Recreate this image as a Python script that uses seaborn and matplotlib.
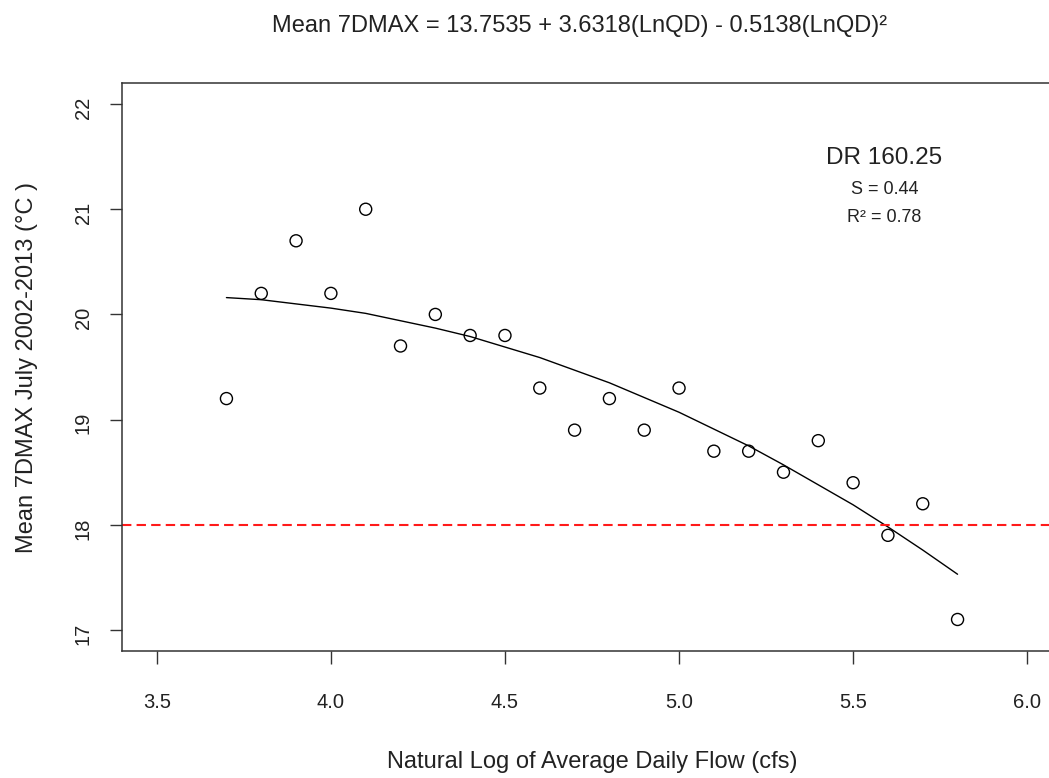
import numpy as np
import pandas as pd
import seaborn as sns
import matplotlib
matplotlib.use('Agg')
import matplotlib.pyplot as plt

# observed points (ln of average daily flow vs mean 7DMAX)
ln_flow = [3.7, 3.8, 3.9, 4.0, 4.1, 4.2, 4.3, 4.4, 4.5, 4.6, 4.7,
           4.8, 4.9, 5.0, 5.1, 5.2, 5.3, 5.4, 5.5, 5.6, 5.7, 5.8]
mean_7dmax = [19.2, 20.2, 20.7, 20.2, 21.0, 19.7, 20.0, 19.8, 19.8, 19.3, 18.9,
              19.2, 18.9, 19.3, 18.7, 18.7, 18.5, 18.8, 18.4, 17.9, 18.2, 17.1]

# fitted curve at the same x positions
fit_7dmax = [20.16, 20.14, 20.10, 20.06, 20.01, 19.94, 19.87, 19.79, 19.69, 19.59, 19.47,
             19.35, 19.21, 19.07, 18.91, 18.75, 18.57, 18.38, 18.19, 17.98, 17.76, 17.53]

threshold = 18
x_ticks = [3.5, 4.0, 4.5, 5.0, 5.5, 6.0]
y_ticks = [17, 18, 19, 20, 21, 22]

df = pd.DataFrame({'LnQD': ln_flow, 'Obs': mean_7dmax, 'Fit': fit_7dmax})

sns.set_theme(style='white')
plt.rcParams['font.family'] = ['Liberation Sans', 'DejaVu Sans']

fig = plt.figure(figsize=(10.49, 7.78), dpi=100)
ax = fig.add_axes([0.1163, 0.1632, 0.8961, 0.7301])

sns.lineplot(data=df, x='LnQD', y='Fit', color='black', linewidth=1.0, ax=ax)
sns.scatterplot(data=df, x='LnQD', y='Obs', s=75, marker='o', facecolor='none',
                edgecolor='black', linewidth=1.0, ax=ax, zorder=3)
ax.axhline(threshold, color='#ff1a1a', linewidth=1.5, linestyle=(0, (4.5, 2.5)))

ax.set_xlim(3.4, 6.1)
ax.set_ylim(16.8, 22.2)
ax.set_xticks(x_ticks)
ax.set_xticklabels([f'{t:.1f}' for t in x_ticks])
ax.set_yticks(y_ticks)
ax.set_yticklabels([str(t) for t in y_ticks])

for sp in ax.spines.values():
    sp.set_color('#333333')
    sp.set_linewidth(1.1)
ax.tick_params(axis='both', direction='out', length=9, width=1.0, color='#333333',
               labelsize=14.5, labelcolor='#222222')
ax.tick_params(axis='x', pad=21, bottom=True)
ax.tick_params(axis='y', pad=12, left=True, labelrotation=90)

ax.set_xlabel('Natural Log of Average Daily Flow (cfs)', fontsize=17, color='#222222', labelpad=28)
ax.set_ylabel('Mean 7DMAX July 2002-2013 (\u00b0C )', fontsize=17, color='#222222', labelpad=26)

fig.text(580 / 1049, 1 - 26 / 778,
         'Mean 7DMAX = 13.7535 + 3.6318(LnQD) - 0.5138(LnQD)\u00b2',
         ha='center', va='center', fontsize=17, color='#222222')

ax.text(5.59, 21.49, 'DR 160.25', ha='center', va='center', fontsize=17.5, color='#222222')
ax.text(5.59, 21.19, 'S = 0.44', ha='center', va='center', fontsize=13, color='#222222')
ax.text(5.59, 20.92, 'R\u00b2 = 0.78', ha='center', va='center', fontsize=13, color='#222222')

fig.savefig('out.png', dpi=100)
